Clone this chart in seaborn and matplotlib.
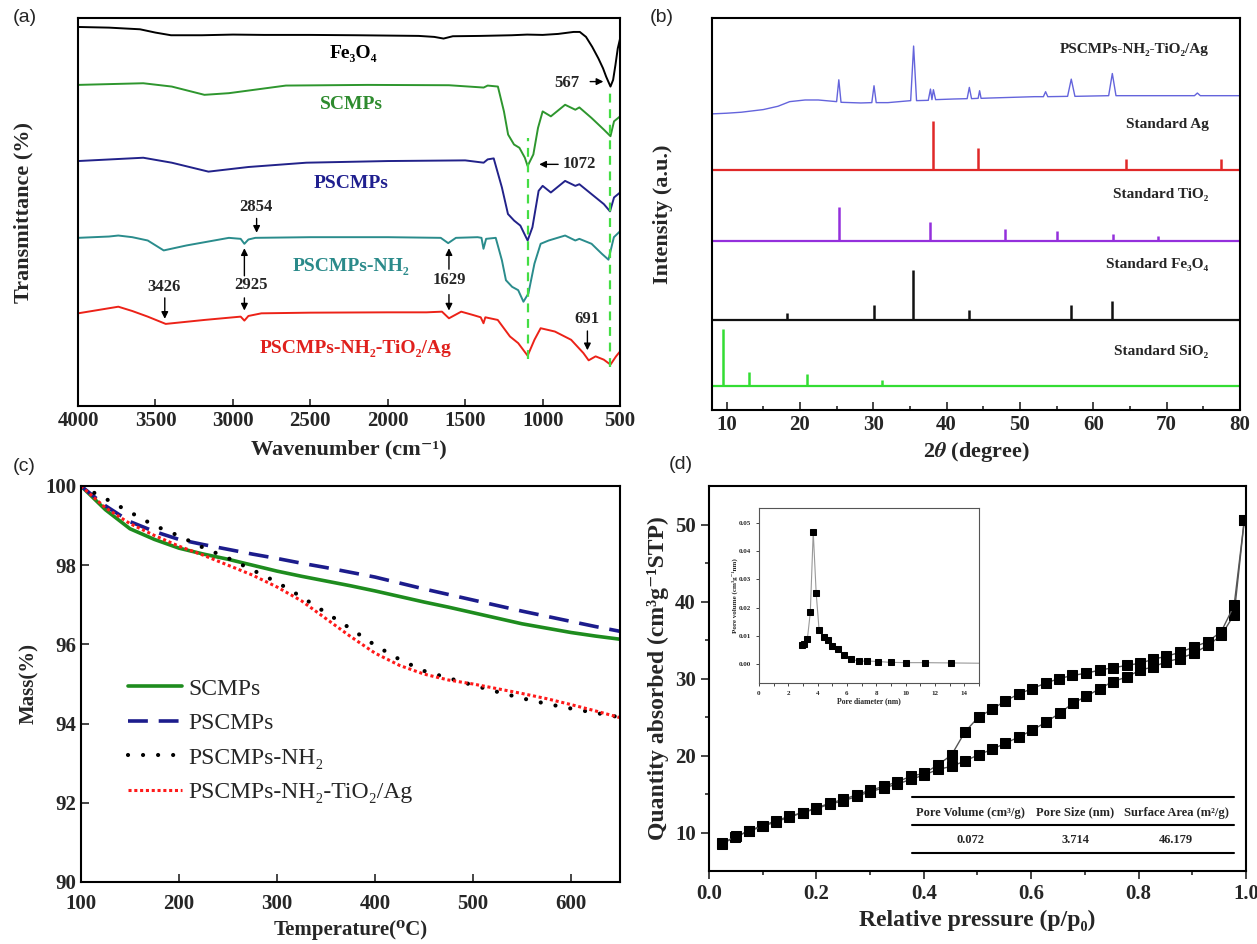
import pandas as pd
import seaborn as sns
import matplotlib.pyplot as plt

# ---------------- (a) FTIR ----------------
fe_wn = [4000, 3800, 3600, 3500, 3400, 3200, 3000, 2800, 2500, 2200, 2000, 1800, 1700, 1640, 1580,
         1400, 1200, 1100, 1000, 900, 800, 760, 720, 680, 640, 610, 590, 562, 545, 530, 515, 500]
fe_t = [1145, 1143, 1138, 1128, 1120, 1120, 1122, 1121, 1121, 1120, 1119, 1118, 1115, 1110, 1117,
        1118, 1120, 1122, 1121, 1124, 1130, 1130, 1115, 1085, 1050, 1020, 995, 965, 985, 1030, 1080, 1110]

scmp_wn = [4000, 3579, 3395, 3184, 3026, 2658, 2131, 1605, 1381, 1355, 1289, 1250, 1223, 1185, 1150,
           1115, 1097, 1060, 1030, 1000, 947, 855, 789, 763, 684, 605, 562, 539, 500]
scmp_t = [970, 975, 965, 940, 945, 968, 970, 969, 962, 968, 965, 890, 820, 790, 780,
          750, 725, 760, 840, 890, 875, 910, 895, 902, 870, 835, 815, 860, 875]

pscmp_wn = [4000, 3579, 3395, 3158, 2900, 2526, 2000, 1500, 1381, 1355, 1316, 1263, 1224, 1184, 1144,
            1118, 1097, 1066, 1026, 1000, 947, 855, 789, 763, 684, 605, 565, 539, 500]
pscmp_t = [740, 750, 735, 708, 722, 735, 740, 742, 735, 745, 748, 660, 580, 560, 545,
           520, 500, 540, 650, 665, 645, 680, 665, 670, 640, 610, 588, 630, 645]

nh2_wn = [4000, 3800, 3740, 3650, 3550, 3447, 3300, 3026, 2950, 2926, 2900, 2855, 2500, 2000, 1658,
          1610, 1560, 1420, 1395, 1382, 1365, 1303, 1263, 1237, 1197, 1158, 1124, 1092, 1053, 1013,
          961, 855, 789, 763, 684, 618, 575, 540, 500]
nh2_t = [508, 512, 515, 510, 500, 470, 485, 508, 505, 490, 503, 508, 510, 510, 508,
         492, 508, 510, 508, 475, 505, 508, 440, 380, 360, 350, 315, 340, 430, 490,
         500, 515, 500, 505, 490, 460, 442, 510, 528]

tiag_wn = [4000, 3870, 3740, 3650, 3550, 3434, 3184, 2950, 2926, 2900, 2816, 2500, 2000, 1750, 1650,
           1605, 1526, 1450, 1400, 1382, 1370, 1290, 1211, 1158, 1097, 1053, 1013, 921, 816, 737,
           703, 658, 605, 562, 526, 500]
tiag_t = [280, 290, 300, 287, 270, 248, 260, 270, 258, 272, 280, 282, 283, 283, 285,
          265, 285, 275, 268, 250, 268, 260, 210, 190, 152, 200, 235, 225, 200, 160,
          138, 150, 140, 125, 150, 165]

ftir_marks = [1097, 562]

# ---------------- (b) XRD ----------------
xrd_2t = [8, 10, 12, 15, 17, 18.6, 20.7, 22.5, 25.0, 25.3, 25.6, 28.3, 29.8, 30.1, 30.4, 32, 35.1, 35.5,
          35.9, 37.5, 37.8, 38.0, 38.2, 38.5, 41, 42.8, 43.1, 43.4, 44.3, 44.5, 44.7, 46, 52, 53.2, 53.5,
          53.8, 56.5, 57.0, 57.5, 62.1, 62.6, 63.1, 70, 73.8, 74.2, 74.6, 80]
xrd_i = [895, 897, 900, 908, 918, 932, 937, 937, 932, 998, 930, 928, 929, 980, 929, 929, 935, 1100,
         935, 936, 970, 938, 968, 938, 940, 941, 975, 941, 942, 965, 942, 943, 947, 947, 962,
         947, 948, 1000, 948, 950, 1017, 950, 950, 950, 958, 950, 950]

ag_pos = [38.1, 44.3, 64.4, 77.4]
ag_h = [148, 68, 35, 35]
tio2_pos = [25.3, 37.8, 48.0, 55.0, 62.7, 68.8]
tio2_h = [105, 57, 37, 30, 22, 15]
fe3o4_pos = [18.3, 30.1, 35.4, 43.0, 56.9, 62.5]
fe3o4_h = [21, 46, 150, 31, 46, 56]
sio2_pos = [9.5, 13.0, 20.9, 31.2]
sio2_h = [172, 42, 35, 17]
std_base = [725, 510, 272, 73]

# ---------------- (c) TGA ----------------
temp = [100, 125, 150, 175, 200, 225, 250, 275, 300, 325, 350, 375, 400, 425, 450, 475, 500, 525,
        550, 575, 600, 625, 650]
mass_scmp = [100, 99.40, 98.92, 98.65, 98.43, 98.28, 98.15, 98.00, 97.85, 97.72, 97.60, 97.48, 97.35,
             97.21, 97.07, 96.94, 96.80, 96.66, 96.52, 96.41, 96.30, 96.21, 96.13]
mass_pscmp = [100, 99.50, 99.10, 98.85, 98.65, 98.52, 98.40, 98.28, 98.17, 98.05, 97.94, 97.82, 97.70,
              97.55, 97.40, 97.26, 97.12, 96.98, 96.84, 96.71, 96.58, 96.45, 96.33]
mass_nh2 = [100, 99.68, 99.34, 99.00, 98.74, 98.44, 98.18, 97.88, 97.57, 97.20, 96.80, 96.40, 95.98,
            95.62, 95.33, 95.15, 94.97, 94.80, 94.64, 94.50, 94.38, 94.27, 94.16]
mass_tiag = [100, 99.45, 99.05, 98.75, 98.48, 98.25, 98.00, 97.75, 97.45, 97.10, 96.65, 96.20, 95.78,
             95.47, 95.25, 95.10, 95.00, 94.88, 94.76, 94.63, 94.48, 94.32, 94.15]

# ---------------- (d) N2 isotherm ----------------
ads_p = [0.024, 0.048, 0.074, 0.099, 0.124, 0.149, 0.175, 0.200, 0.225, 0.250, 0.275, 0.300, 0.326,
         0.351, 0.376, 0.401, 0.427, 0.452, 0.477, 0.502, 0.527, 0.552, 0.577, 0.602, 0.627, 0.653,
         0.678, 0.703, 0.728, 0.752, 0.778, 0.803, 0.827, 0.852, 0.877, 0.903, 0.929, 0.954, 0.978, 0.997]
ads_q = [8.5, 9.4, 10.2, 10.9, 11.5, 12.1, 12.6, 13.1, 13.7, 14.1, 14.7, 15.3, 15.8,
         16.3, 16.9, 17.5, 18.2, 18.6, 19.3, 20.1, 20.8, 21.6, 22.4, 23.3, 24.3, 25.5,
         26.8, 27.7, 28.7, 29.6, 30.2, 31.1, 31.5, 32.2, 32.6, 33.3, 34.3, 35.6, 38.3, 50.6]
des_p = [0.997, 0.978, 0.954, 0.929, 0.903, 0.877, 0.852, 0.827, 0.803, 0.778, 0.752, 0.728, 0.703,
         0.677, 0.652, 0.627, 0.602, 0.577, 0.552, 0.527, 0.502, 0.477, 0.452, 0.427, 0.401, 0.376,
         0.351, 0.326, 0.300, 0.275, 0.250, 0.225, 0.200, 0.175, 0.150, 0.125, 0.100, 0.075, 0.050, 0.025]
des_q = [50.6, 39.5, 36.1, 34.8, 34.1, 33.4, 32.9, 32.5, 32.0, 31.7, 31.4, 31.1, 30.7,
         30.4, 30.0, 29.4, 28.7, 28.0, 27.1, 26.0, 25.0, 23.1, 20.1, 18.8, 17.7, 17.3,
         16.6, 16.0, 15.5, 14.9, 14.3, 13.8, 13.2, 12.6, 12.0, 11.4, 10.8, 10.2, 9.5, 8.6]

pore_d = [2.9, 3.1, 3.3, 3.5, 3.7, 3.9, 4.1, 4.4, 4.7, 5.0, 5.4, 5.8, 6.3, 6.8, 7.4, 8.1, 9.0, 10.0, 11.3, 13.1]
pore_v = [0.0067, 0.0070, 0.0089, 0.0183, 0.0468, 0.0252, 0.0120, 0.0095, 0.0085, 0.0065, 0.0052,
          0.0032, 0.0018, 0.0010, 0.0011, 0.0009, 0.0006, 0.0005, 0.0005, 0.0004]

table_head = ["Pore Volume (cm³/g)", "Pore Size (nm)", "Surface Area (m²/g)"]
table_vals = ["0.072", "3.714", "46.179"]

# ---------------- style ----------------
sns.set_theme(style="ticks")
serif = ['Liberation Serif', 'DejaVu Serif']
sans = ['Liberation Sans', 'DejaVu Sans']
plt.rcParams['font.family'] = serif
plt.rcParams['font.weight'] = 'bold'
plt.rcParams['axes.labelweight'] = 'bold'
plt.rcParams['mathtext.fontset'] = 'stix'
plt.rcParams['axes.linewidth'] = 1.5
plt.rcParams['axes.edgecolor'] = 'black'

fig = plt.figure(figsize=(12.57, 9.44), dpi=100)
axA = fig.add_axes([0.0621, 0.5699, 0.4312, 0.4110])
axB = fig.add_axes([0.5664, 0.5657, 0.4200, 0.4153])
axC = fig.add_axes([0.0644, 0.0657, 0.4288, 0.4195])
axD = fig.add_axes([0.5640, 0.0773, 0.4272, 0.4078])

fig.text(0.010, 0.981, "(a)", family=sans, weight='normal', fontsize=14, va='center')
fig.text(0.517, 0.981, "(b)", family=sans, weight='normal', fontsize=14, va='center')
fig.text(0.010, 0.506, "(c)", family=sans, weight='normal', fontsize=14, va='center')
fig.text(0.532, 0.508, "(d)", family=sans, weight='normal', fontsize=14, va='center')

# ---- (a)
ftir = [(fe_wn, fe_t, 'black'), (scmp_wn, scmp_t, '#2e962e'), (pscmp_wn, pscmp_t, '#22228a'),
        (nh2_wn, nh2_t, '#2a8c8c'), (tiag_wn, tiag_t, '#ec2218')]
for wn, t, c in ftir:
    sns.lineplot(x=wn, y=t, ax=axA, color=c, lw=1.4)
axA.axvline(ftir_marks[0], ymin=0.12, ymax=0.69, color='#44dd44', lw=1.6, ls=(0, (4, 3)))
axA.axvline(ftir_marks[1], ymin=0.10, ymax=0.82, color='#44dd44', lw=1.6, ls=(0, (4, 3)))
axA.set_xlim(4000, 500)
axA.set_ylim(0, 1172)
axA.set_yticks([])
axA.set_xticks([4000, 3500, 3000, 2500, 2000, 1500, 1000, 500])
axA.tick_params(axis='x', direction='in', labelsize=15, length=5, width=1.2)
axA.set_xlabel("Wavenumber (cm⁻¹)", fontsize=16, labelpad=6)
axA.set_ylabel("Transmittance (%)", fontsize=16, labelpad=32)

for txt, x, y, c in [("Fe₃O₄", 2221, 1065, 'black'), ("SCMPs", 2237, 910, '#2e8b2e'),
                     ("PSCMPs", 2237, 672, '#1f1f8f'), ("PSCMPs-NH₂", 2237, 420, '#2a8a8a'),
                     ("PSCMPs-NH₂-TiO₂/Ag", 2210, 175, '#e0201c')]:
    axA.text(x, y, txt, color=c, fontsize=14, ha='center', va='center')
for txt, x, y in [("567", 842, 975), ("1072", 766, 730), ("2854", 2855, 600), ("2925", 2882, 365),
                  ("3426", 3447, 360), ("1629", 1605, 380), ("691", 711, 262)]:
    axA.text(x, y, txt, fontsize=12, ha='center', va='center')
arr = dict(arrowstyle='-|>', color='black', lw=1.0, mutation_scale=10)
for tail, head in [((711, 980), (590, 980)), ((882, 730), (1040, 730)), ((2847, 575), (2847, 515)),
                   ((2926, 385), (2926, 485)), ((2926, 335), (2926, 280)), ((3440, 335), (3440, 255)),
                   ((1605, 405), (1605, 485)), ((1605, 345), (1605, 280)), ((711, 235), (711, 160))]:
    axA.annotate("", xy=head, xytext=tail, arrowprops=arr)

# ---- (b)
sns.lineplot(x=xrd_2t, y=xrd_i, ax=axB, color='#6464dc', lw=1.0)
std = [(ag_pos, ag_h, '#e02828'), (tio2_pos, tio2_h, '#9430dc'), (fe3o4_pos, fe3o4_h, '#111111'),
       (sio2_pos, sio2_h, '#33dd33')]
for (pos, h, c), base in zip(std, std_base):
    axB.axhline(base, color=c, lw=1.6)
    axB.vlines(pos, base, [base + v for v in h], color=c, lw=1.8)
axB.set_xlim(8, 80)
axB.set_ylim(0, 1185)
axB.set_yticks([])
axB.set_xticks(range(10, 81, 10))
axB.set_xticks(range(15, 80, 10), minor=True)
axB.tick_params(axis='x', which='both', direction='in', labelsize=15, width=1.2)
axB.tick_params(axis='x', which='major', length=6)
axB.tick_params(axis='x', which='minor', length=3)
axB.set_xlabel(r"2$\theta$ (degree)", fontsize=16)
axB.set_ylabel("Intensity (a.u.)", fontsize=16, labelpad=28)
for txt, y in [("PSCMPs-NH₂-TiO₂/Ag", 1090), ("Standard Ag", 862), ("Standard TiO₂", 650),
               ("Standard Fe₃O₄", 440), ("Standard SiO₂", 178)]:
    axB.text(75.7, y, txt, fontsize=11, ha='right', va='center')

# ---- (c)
sns.lineplot(x=temp, y=mass_scmp, ax=axC, color='#1e8c1e', lw=2.6, label="SCMPs")
sns.lineplot(x=temp, y=mass_pscmp, ax=axC, color='#1c1c8c', lw=2.6, ls=(0, (5.5, 3)), label="PSCMPs")
sns.lineplot(x=temp, y=mass_nh2, ax=axC, color='black', lw=3.0, ls=(0, (0.01, 3.6)),
             dash_capstyle='round', label="PSCMPs-NH₂")
sns.lineplot(x=temp, y=mass_tiag, ax=axC, color='#ff1a1a', lw=2.2, ls=(0, (1, 0.9)),
             label="PSCMPs-NH₂-TiO₂/Ag")
axC.set_xlim(100, 650)
axC.set_ylim(90, 100)
axC.set_xticks(range(100, 601, 100))
axC.set_yticks(range(90, 101, 2))
axC.tick_params(direction='in', labelsize=15, length=6, width=1.2)
axC.tick_params(axis='x', pad=9)
axC.set_xlabel("Temperature(⁰C)", fontsize=15, labelpad=4)
axC.set_ylabel("Mass(%)", fontsize=15)
axC.legend(loc='upper left', bbox_to_anchor=(0.087, 0.515), frameon=False, handlelength=2.3,
           handletextpad=0.25, labelspacing=0.55, borderpad=0, borderaxespad=0,
           prop=dict(family=serif, weight='normal', size=17))

# ---- (d)
sns.lineplot(x=ads_p, y=ads_q, ax=axD, sort=False, color='#555555', lw=1.0, marker='s',
             markersize=7, markerfacecolor='black', markeredgecolor='black')
sns.lineplot(x=des_p, y=des_q, ax=axD, sort=False, color='#555555', lw=1.0, marker='s',
             markersize=7, markerfacecolor='black', markeredgecolor='black')
axD.set_xlim(0, 1.0)
axD.set_ylim(5, 55)
axD.set_xticks([0.0, 0.2, 0.4, 0.6, 0.8, 1.0])
axD.set_xticklabels(["0.0", "0.2", "0.4", "0.6", "0.8", "1.0"])
axD.set_xticks([0.1, 0.3, 0.5, 0.7, 0.9], minor=True)
axD.set_yticks([10, 20, 30, 40, 50])
axD.set_yticks([15, 25, 35, 45], minor=True)
axD.tick_params(which='both', direction='out', labelsize=15, width=1.2)
axD.tick_params(which='major', length=6)
axD.tick_params(which='minor', length=3)
axD.set_xlabel("Relative pressure (p/p₀)", fontsize=17)
axD.set_ylabel("Quantity absorbed (cm³g⁻¹STP)", fontsize=17)

for y in [0.193, 0.12, 0.046]:
    axD.plot([0.379, 0.978], [y, y], transform=axD.transAxes, color='black', lw=1.5)
for x, h, v in zip([0.487, 0.682, 0.870], table_head, table_vals):
    axD.text(x, 0.152, h, transform=axD.transAxes, fontsize=9, ha='center', va='center')
    axD.text(x, 0.080, v, transform=axD.transAxes, fontsize=9, ha='center', va='center')

axI = fig.add_axes([0.6038, 0.2765, 0.1750, 0.1854])
sns.lineplot(x=pore_d + [15], y=pore_v + [0.0003], ax=axI, color='#999999', lw=0.8)
sns.lineplot(x=pore_d, y=pore_v, ax=axI, color='black', lw=0, marker='s', markersize=4,
             markerfacecolor='black', markeredgecolor='black')
axI.set_xlim(0, 15)
axI.set_ylim(-0.0067, 0.0553)
axI.set_xticks(range(0, 15, 2))
axI.set_xticks(range(1, 16, 2), minor=True)
axI.set_yticks([0.0, 0.01, 0.02, 0.03, 0.04, 0.05])
axI.set_yticklabels(["0.00", "0.01", "0.02", "0.03", "0.04", "0.05"])
axI.tick_params(which='both', direction='out', labelsize=5, length=2, width=0.6)
for s in axI.spines.values():
    s.set_linewidth(0.8)
    s.set_color('#555555')
axI.set_xlabel("Pore diameter (nm)", fontsize=5.5, labelpad=1)
axI.set_ylabel("Pore volume (cm³g⁻¹nm)", fontsize=5, labelpad=1)

fig.savefig("out.png", dpi=100)
